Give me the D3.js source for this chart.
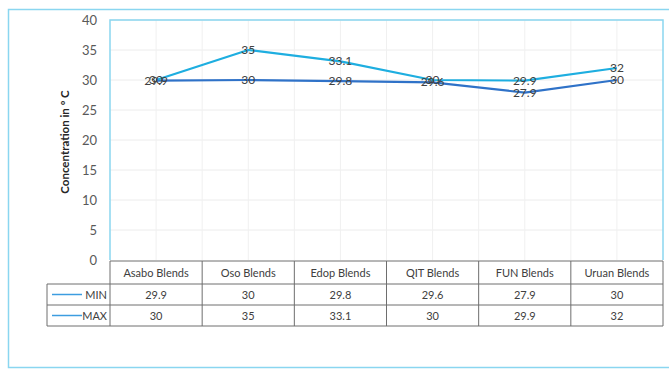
<!DOCTYPE html>
<html><head><meta charset="utf-8">
<script src="https://cdn.jsdelivr.net/npm/d3@7/dist/d3.min.js"></script>
<style>body{margin:0;background:#fff}svg{display:block}text{font-family:Lato,"Open Sans",sans-serif}</style>
</head><body>
<svg id="c" width="669" height="370"></svg>
<script>
const categories = ["Asabo Blends","Oso Blends","Edop Blends","QIT Blends","FUN Blends","Uruan Blends"];
const minValues = [29.9, 30, 29.8, 29.6, 27.9, 30];
const maxValues = [30, 35, 33.1, 30, 29.9, 32];
const seriesNames = ["MIN","MAX"];
const yTicks = [0,5,10,15,20,25,30,35,40];
const yTitle = "Concentration in º C";

const series = [
  {name: seriesNames[0], values: minValues, color: "#2f72c8"},
  {name: seriesNames[1], values: maxValues, color: "#1eaee0"}
];

const svg = d3.select("#c");
const L = 110, R = 663, T = 20, B = 260;

// outer frame
svg.append("rect").attr("x",8.5).attr("y",9.5).attr("width",670).attr("height",358)
  .attr("fill","none").attr("stroke","#8ad6f0").attr("stroke-width",1.5);

const x = d3.scaleBand().domain(categories).range([L,R]).padding(0);
const y = d3.scaleLinear().domain([0,40]).range([B,T]);

// gridlines horizontal
svg.append("g").selectAll("line").data(yTicks.filter(d=>d>0)).join("line")
  .attr("x1",L).attr("x2",R).attr("y1",d=>y(d)).attr("y2",d=>y(d))
  .attr("stroke","#ececec").attr("stroke-width",1);
// vertical gridlines at boundaries and centers
const vpos = [];
categories.forEach(c=>{vpos.push(x(c)); vpos.push(x(c)+x.bandwidth()/2);});
svg.append("g").selectAll("line").data(vpos.slice(1)).join("line")
  .attr("x1",d=>d).attr("x2",d=>d).attr("y1",T).attr("y2",B)
  .attr("stroke","#f0f0f0").attr("stroke-width",1);

// plot border (cyan) left, top, right
svg.append("path").attr("d",`M${L},${B}V${T}H${R}V${B}`).attr("fill","none")
  .attr("stroke","#8ad6f0").attr("stroke-width",1.5);

// y axis ticks
const yAxis = d3.axisLeft(y).tickValues(yTicks).tickSize(0).tickPadding(0);
const ya = svg.append("g").attr("transform",`translate(${L-13},0)`).call(yAxis);
ya.select(".domain").remove();
ya.selectAll("text").attr("fill","#595959").style("font-size","13px").style("font-family","Lato,'Open Sans',sans-serif");

// y title
svg.append("text").attr("transform",`translate(69,${(T+B)/2+2}) rotate(-90)`)
  .attr("text-anchor","middle").attr("fill","#262626").style("font-size","11.5px").style("font-weight","bold")
  .text(yTitle);

// lines
const line = d3.line().x((d,i)=>x(categories[i])+x.bandwidth()/2).y(d=>y(d));
series.forEach(s=>{
  svg.append("path").datum(s.values).attr("d",line).attr("fill","none")
    .attr("stroke",s.color).attr("stroke-width",2.2).attr("stroke-linejoin","round");
});
// labels
series.forEach(s=>{
  svg.append("g").selectAll("text").data(s.values).join("text")
    .attr("x",(d,i)=>x(categories[i])+x.bandwidth()/2).attr("y",d=>y(d)+4)
    .attr("text-anchor","middle").attr("fill","#404040").style("font-size","12px").text(d=>d);
});

// data table
const rowH = [B+1, 284, 305, 326];
const tbl = svg.append("g");
const gridC = "#6e6e6e";
tbl.append("line").attr("x1",L).attr("x2",R).attr("y1",rowH[0]).attr("y2",rowH[0]).attr("stroke",gridC);
[1,2,3].forEach(k=>tbl.append("line").attr("x1",47).attr("x2",R).attr("y1",rowH[k]).attr("y2",rowH[k]).attr("stroke",gridC));
tbl.append("line").attr("x1",47).attr("x2",47).attr("y1",rowH[1]).attr("y2",rowH[3]).attr("stroke",gridC);
const bounds = categories.map(c=>x(c)).concat([R]);
bounds.forEach(b=>tbl.append("line").attr("x1",b).attr("x2",b).attr("y1",rowH[0]).attr("y2",rowH[3]).attr("stroke",gridC));
tbl.selectAll("text.h").data(categories).join("text").attr("class","h")
  .attr("x",d=>x(d)+x.bandwidth()/2).attr("y",(rowH[0]+rowH[1])/2+4)
  .attr("text-anchor","middle").attr("fill","#404040").style("font-size","11px").text(d=>d);
series.forEach((s,k)=>{
  const cy = (rowH[k+1]+rowH[k+2])/2;
  tbl.append("line").attr("x1",52).attr("x2",82).attr("y1",cy).attr("y2",cy).attr("stroke","#3d9de0").attr("stroke-width",1.5);
  tbl.append("text").attr("x",107).attr("y",cy+4).attr("text-anchor","end").attr("fill","#404040").style("font-size","11px").text(s.name);
  tbl.selectAll("text.v"+k).data(s.values).join("text").attr("class","v"+k)
    .attr("x",(d,i)=>x(categories[i])+x.bandwidth()/2).attr("y",cy+4)
    .attr("text-anchor","middle").attr("fill","#404040").style("font-size","11px").text(d=>d);
});
</script>
</body></html>
